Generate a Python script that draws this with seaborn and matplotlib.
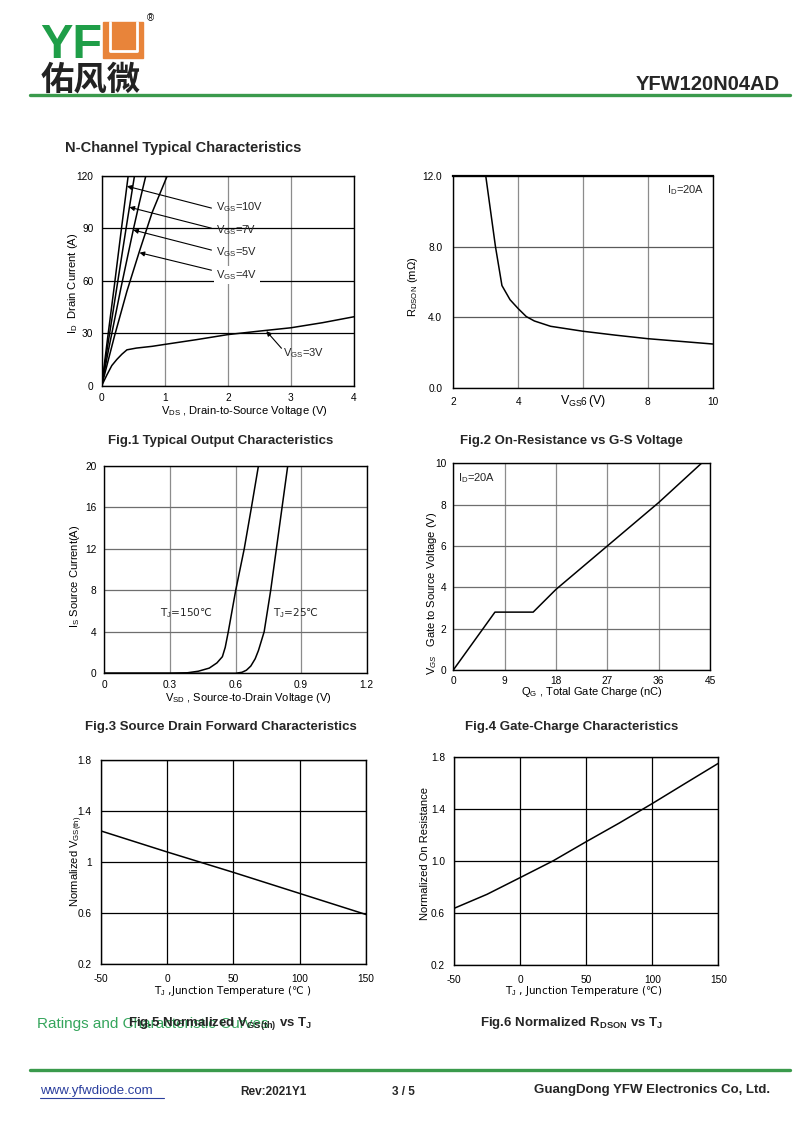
import seaborn as sns
import numpy as np
import matplotlib.pyplot as plt
import pandas as pd
from matplotlib.patches import Rectangle

# Fig.1 typical output characteristics (VDS in V, ID in A)
vds_10v = [0, 0.1, 0.2, 0.3, 0.42]
id_10v = [0, 29, 57, 86, 120]
vds_7v = [0, 0.1, 0.2, 0.3, 0.4, 0.52]
id_7v = [0, 24, 47, 70, 93, 120]
vds_5v = [0, 0.1, 0.2, 0.3, 0.4, 0.5, 0.6, 0.70]
id_5v = [0, 19, 37, 55, 72, 89, 105, 120]
vds_4v = [0, 0.1, 0.2, 0.4, 0.6, 0.8, 1.04]
id_4v = [0, 14, 28, 54, 77, 99, 120]
vds_3v = [0, 0.08, 0.16, 0.24, 0.32, 0.4, 0.55, 0.8, 1.0, 1.5, 2.0, 2.5, 3.0, 3.5, 4.0]
id_3v = [0, 6, 11.5, 15, 18, 20.5, 21.5, 22.5, 23.6, 26.3, 29.2, 31.2, 33.1, 36, 39.4]
vgs_labels = ["V$_\\mathrm{GS}$=10V", "V$_\\mathrm{GS}$=7V", "V$_\\mathrm{GS}$=5V",
              "V$_\\mathrm{GS}$=4V", "V$_\\mathrm{GS}$=3V"]

# Fig.2 on-resistance vs VGS (ID = 20A)
vgs_r = [3.0, 3.15, 3.3, 3.5, 3.75, 4.0, 4.25, 4.5, 5.0, 6.0, 7.0, 8.0, 9.0, 10.0]
rdson = [12.0, 10.0, 8.0, 5.8, 5.0, 4.5, 4.05, 3.8, 3.5, 3.22, 3.0, 2.8, 2.65, 2.5]

# Fig.3 source-drain diode forward characteristics
vsd_150 = [0, 0.30, 0.38, 0.43, 0.48, 0.515, 0.54, 0.553, 0.567, 0.601, 0.640, 0.673, 0.705]
is_150 = [0, 0, 0.05, 0.2, 0.5, 1.0, 1.6, 2.5, 4.0, 8.0, 12.0, 16.0, 20.0]
vsd_25 = [0, 0.60, 0.63, 0.65, 0.67, 0.69, 0.705, 0.731, 0.761, 0.787, 0.813, 0.839]
is_25 = [0, 0, 0.1, 0.3, 0.7, 1.4, 2.2, 4.0, 8.0, 12.0, 16.0, 20.0]

# Fig.4 gate charge
qg = [0, 7.3, 14.0, 18.0, 27.0, 36.0, 43.5]
vgs_q = [0, 2.8, 2.8, 3.9, 6.0, 8.1, 10.0]

# Fig.5 normalized VGS(th) vs TJ
tj5 = [-50, 0, 25, 50, 100, 150]
vth_norm = [1.245, 1.08, 1.0, 0.92, 0.755, 0.59]

# Fig.6 normalized RDSON vs TJ
tj6 = [-50, -25, 0, 25, 50, 75, 100, 125, 150]
ron_norm = [0.635, 0.743, 0.871, 1.0, 1.147, 1.29, 1.44, 1.595, 1.749]

# tick values / labels
f1_xt, f1_yt = [0, 1, 2, 3, 4], [0, 30, 60, 90, 120]
f2_xt, f2_yt = [2, 4, 6, 8, 10], [0, 4, 8, 12]
f2_ytl = ["0.0", "4.0", "8.0", "12.0"]
f3_xt, f3_yt = [0, 0.3, 0.6, 0.9, 1.2], [0, 4, 8, 12, 16, 20]
f3_xtl = ["0", "0.3", "0.6", "0.9", "1.2"]
f4_xt, f4_yt = [0, 9, 18, 27, 36, 45], [0, 2, 4, 6, 8, 10]
f56_xt = [-50, 0, 50, 100, 150]
f56_yt = [0.2, 0.6, 1.0, 1.4, 1.8]
f5_ytl = ["0.2", "0.6", "1", "1.4", "1.8"]
f6_ytl = ["0.2", "0.6", "1.0", "1.4", "1.8"]

sns.set_theme(style="white")
plt.rcParams["font.family"] = ["Liberation Sans", "DejaVu Sans"]
plt.rcParams["mathtext.fontset"] = "custom"
plt.rcParams["mathtext.rm"] = "Liberation Sans"
plt.rcParams["mathtext.it"] = "Liberation Sans:italic"
plt.rcParams["mathtext.bf"] = "Liberation Sans:bold"
plt.rcParams["axes.unicode_minus"] = False

W, H = 800, 1131
fig = plt.figure(figsize=(8, 11.31), dpi=100)
fig.patch.set_facecolor("white")

page = fig.add_axes([0, 0, 1, 1])
page.set_xlim(0, W)
page.set_ylim(H, 0)
page.axis("off")
page.set_zorder(-1)

# texts holding the celsius sign need a font that has it
CELSIUS_FONT = "DejaVu Sans"


def panel(box):
    l, t, r, b = box
    return fig.add_axes([l / W, 1 - b / H, (r - l) / W, (b - t) / H])


def dress(ax, box, xlim, ylim, xt, yt, xtl, ytl, hcol, vcol, xpad, ypad,
          xl, xlpos, yl, ylpos, xl_kw=None):
    l, t, r, b = box
    ax.set_xlim(xlim)
    ax.set_ylim(ylim)
    ax.set_xticks(xt)
    ax.set_yticks(yt)
    ax.set_xticklabels(xtl if xtl else [str(v) for v in xt])
    ax.set_yticklabels(ytl if ytl else [str(v) for v in yt])
    ax.xaxis.grid(True, color=vcol, lw=0.9)
    ax.yaxis.grid(True, color=hcol, lw=0.9)
    ax.set_axisbelow(True)
    ax.tick_params(axis="x", length=0, pad=xpad, labelsize=7.3, colors="black")
    ax.tick_params(axis="y", length=0, pad=ypad, labelsize=7.3, colors="black")
    for s in ax.spines.values():
        s.set_color("black")
        s.set_linewidth(1.0)
    ax.set_xlabel(xl, color="black", **(xl_kw or {"fontsize": 8}))
    ax.xaxis.set_label_coords((xlpos[0] - l) / (r - l), (b - xlpos[1]) / (b - t))
    ax.set_ylabel(yl, fontsize=8, color="black")
    ax.yaxis.set_label_coords((ylpos[0] - l) / (r - l), (b - ylpos[1]) / (b - t))
    ax.yaxis.label.set_va("center")


def curve(ax, x, y):
    sns.lineplot(x=x, y=y, ax=ax, color="black", lw=1.1, sort=False, estimator=None)


# ---------- Fig.1
b1 = (101.7, 175.7, 354, 385.7)
ax1 = panel(b1)
for x, y in [(vds_10v, id_10v), (vds_7v, id_7v), (vds_5v, id_5v), (vds_4v, id_4v), (vds_3v, id_3v)]:
    curve(ax1, x, y)
dress(ax1, b1, (0, 4), (0, 120), f1_xt, f1_yt, None, None, "black", "#8c8c8c", 5, 6,
      "V$_\\mathrm{DS}$ , Drain-to-Source Voltage (V)", (244, 404),
      "I$_\\mathrm{D}$  Drain Current (A)", (73, 283))
tips = [(0.40, 114), (0.44, 102), (0.50, 89), (0.60, 76)]
tails = [(1.74, 101.5), (1.74, 90), (1.74, 77.5), (1.74, 66)]
ly = [102, 89, 76.6, 63.3]
for tip, tail, yy, lab in zip(tips, tails, ly, vgs_labels[:4]):
    ax1.annotate("", xy=tip, xytext=tail,
                 arrowprops=dict(arrowstyle="-|>", color="black", lw=0.8,
                                 mutation_scale=7, shrinkA=0, shrinkB=0))
    kw = dict(bbox=dict(fc="white", ec="none", pad=1.5)) if "4V" in lab else {}
    ax1.text(1.82, yy, lab, fontsize=8, va="center", ha="left", **kw)
ax1.annotate("", xy=(2.61, 31.2), xytext=(2.85, 21.4),
             arrowprops=dict(arrowstyle="-|>", color="black", lw=0.8,
                             mutation_scale=7, shrinkA=0, shrinkB=0))
ax1.text(2.88, 18.5, vgs_labels[4], fontsize=8, va="center", ha="left")

# ---------- Fig.2
b2 = (453.3, 175.7, 712.7, 388.3)
ax2 = panel(b2)
curve(ax2, vgs_r, rdson)
dress(ax2, b2, (2, 10), (0, 12), f2_xt, f2_yt, None, f2_ytl, "#5a5a5a", "#8c8c8c", 6, 8,
      "V$_\\mathrm{GS}$  (V)", (583, 393),
      "R$_\\mathrm{DSON}$ (m\u03a9)", (413, 287), xl_kw={"fontsize": 9})
ax2.spines["top"].set_linewidth(1.6)
ax2.text(8.58, 11.2, "I$_\\mathrm{D}$=20A", fontsize=8, va="center", ha="left")

# ---------- Fig.3
b3 = (104.3, 465.7, 366.7, 673.3)
ax3 = panel(b3)
curve(ax3, vsd_150, is_150)
curve(ax3, vsd_25, is_25)
dress(ax3, b3, (0, 1.2), (0, 20), f3_xt, f3_yt, f3_xtl, None, "#6e6e6e", "#8c8c8c", 4.5, 5.5,
      "V$_\\mathrm{SD}$ , Source-to-Drain Voltage (V)", (248.5, 691),
      "I$_\\mathrm{S}$ Source Current(A)", (75, 576))
ax3.text(0.255, 5.78, "T$_\\mathrm{J}$=150\u2103", fontsize=7.6, va="center", ha="left",
         family=CELSIUS_FONT)
ax3.text(0.773, 5.78, "T$_\\mathrm{J}$=25\u2103", fontsize=7.6, va="center", ha="left",
         family=CELSIUS_FONT)

# ---------- Fig.4
b4 = (453.3, 463.3, 710, 670)
ax4 = panel(b4)
curve(ax4, qg, vgs_q)
dress(ax4, b4, (0, 45), (0, 10), f4_xt, f4_yt, None, None, "#6e6e6e", "#8c8c8c", 4.5, 5,
      "Q$_\\mathrm{G}$ , Total Gate Charge (nC)", (592, 685),
      "V$_\\mathit{GS}$   Gate to Source Voltage (V)", (431.7, 593))
ax4.text(0.9, 9.27, "I$_\\mathrm{D}$=20A", fontsize=8, va="center", ha="left")

# ---------- Fig.5
b5 = (100.7, 760, 366, 964.3)
ax5 = panel(b5)
curve(ax5, tj5, vth_norm)
dress(ax5, b5, (-50, 150), (0.2, 1.8), f56_xt, f56_yt, None, f5_ytl, "black", "black", 7, 6.5,
      "T$_\\mathrm{J}$ ,Junction Temperature (\u2103 )", (232.5, 984),
      "Normalized V$_\\mathrm{GS(th)}$", (76.7, 861),
      xl_kw={"fontsize": 7.5, "family": CELSIUS_FONT})

# ---------- Fig.6
b6 = (454, 756.7, 718.3, 965)
ax6 = panel(b6)
curve(ax6, tj6, ron_norm)
dress(ax6, b6, (-50, 150), (0.2, 1.8), f56_xt, f56_yt, None, f6_ytl, "black", "black", 7, 6.5,
      "T$_\\mathrm{J}$ , Junction Temperature (\u2103)", (583.5, 984),
      "Normalized On Resistance", (425, 853),
      xl_kw={"fontsize": 7.5, "family": CELSIUS_FONT})

# ---------- page furniture
green = "#3a9a4c"
page.text(40, 58, "YF", fontsize=35, fontweight="bold", color="#1f9e48", va="baseline", ha="left")
page.add_patch(Rectangle((103, 22), 40, 36, color="#e8843a"))
page.plot([109.5, 109.5, 136.5, 136.5], [22, 51, 51, 22], color="white", lw=2.0)
page.text(147, 18, "\u00ae", fontsize=7, color="black", va="center", ha="left")
page.text(41, 80, "\u4f51\u98ce\u5fae", fontsize=24, fontweight="bold", color="#222222",
          va="center", ha="left", family=["Noto Sans CJK SC", "DejaVu Sans"])
page.text(780, 84, "YFW120N04AD", fontsize=14.5, fontweight="bold", va="center", ha="right")
page.plot([30, 790], [95, 95], color=green, lw=2.4)

page.text(65, 148, "N-Channel Typical Characteristics", fontsize=10.5, fontweight="bold",
          va="center", ha="left")

titles = [(220.5, 441, "Fig.1 Typical Output Characteristics"),
          (571.5, 441, "Fig.2 On-Resistance vs G-S Voltage"),
          (220.5, 727, "Fig.3 Source Drain Forward Characteristics"),
          (571.5, 727, "Fig.4 Gate-Charge Characteristics"),
          (220.5, 1023, "Fig.5 Normalized V$_\\mathbf{GS(th)}$ vs T$_\\mathbf{J}$"),
          (571.5, 1023, "Fig.6 Normalized R$_\\mathbf{DSON}$ vs T$_\\mathbf{J}$")]
page.text(37, 1024, "Ratings and Characteristic Curves", fontsize=11, color="#35a55c",
          va="center", ha="left", zorder=1)
for x, y, s in titles:
    page.text(x, y, s, fontsize=9.5, fontweight="bold", va="center", ha="center", zorder=2)

page.plot([30, 790], [1070, 1070], color=green, lw=2.4)
page.text(40, 1091, "www.yfwdiode.com", fontsize=9.5, color="#2b3f9e", va="center", ha="left")
page.plot([40, 164], [1098, 1098], color="#2b3f9e", lw=0.8)
page.text(240, 1092, "Rev:2021Y1", fontsize=8.5, fontweight="bold", va="center", ha="left")
page.text(392, 1092, "3 / 5", fontsize=8.5, fontweight="bold", va="center", ha="left")
page.text(770, 1090, "GuangDong YFW Electronics Co, Ltd.", fontsize=9.5, fontweight="bold",
          va="center", ha="right")

fig.savefig("out.png", dpi=100, facecolor="white")
